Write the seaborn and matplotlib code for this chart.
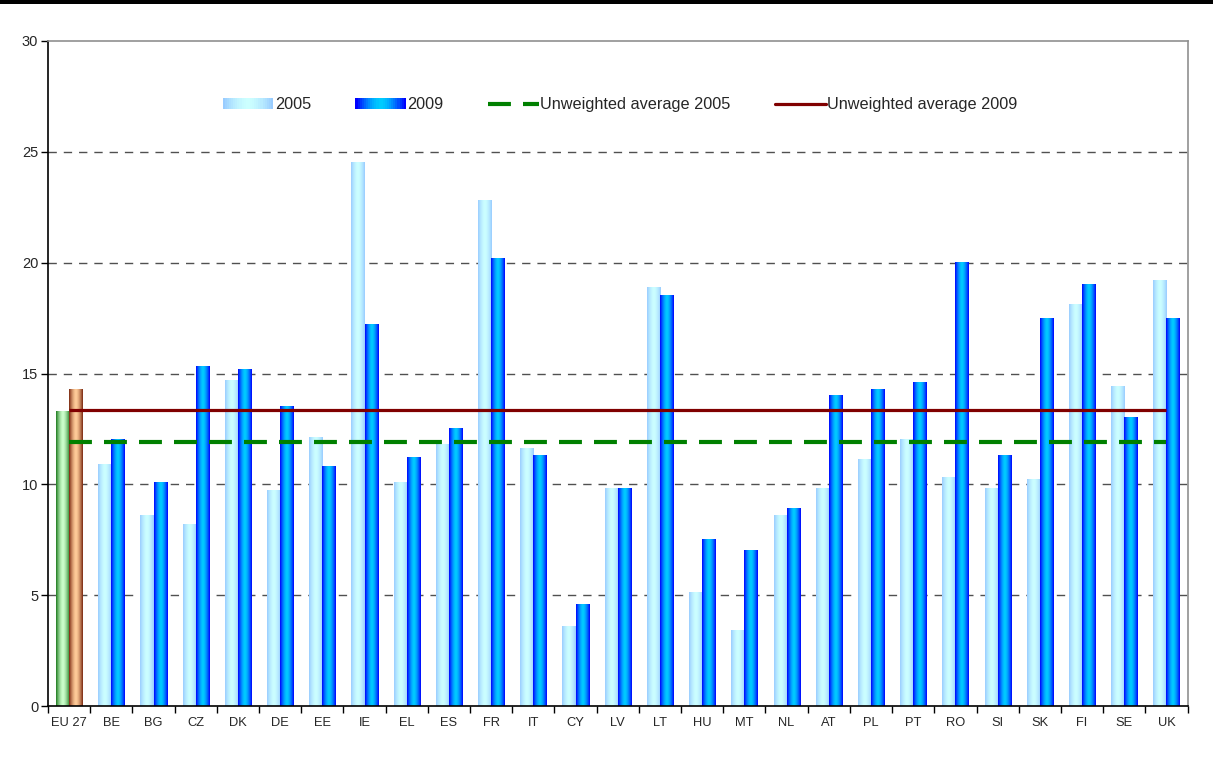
import numpy as np
import pandas as pd
import matplotlib
matplotlib.use("Agg")
import matplotlib.pyplot as plt
import matplotlib.colors as mcolors
from matplotlib.patches import Rectangle
from matplotlib.lines import Line2D
from matplotlib.legend_handler import HandlerBase
import seaborn as sns

# data
countries = ["EU 27", "BE", "BG", "CZ", "DK", "DE", "EE", "IE", "EL", "ES", "FR", "IT", "CY", "LV",
             "LT", "HU", "MT", "NL", "AT", "PL", "PT", "RO", "SI", "SK", "FI", "SE", "UK"]
values_2005 = [13.3, 10.9, 8.6, 8.2, 14.7, 9.7, 12.1, 24.5, 10.1, 11.8, 22.8, 11.6, 3.6, 9.8,
               18.9, 5.1, 3.4, 8.6, 9.8, 11.1, 12.0, 10.3, 9.8, 10.2, 18.1, 14.4, 19.2]
values_2009 = [14.3, 12.0, 10.1, 15.3, 15.2, 13.5, 10.8, 17.2, 11.2, 12.5, 20.2, 11.3, 4.6, 9.8,
               18.5, 7.5, 7.0, 8.9, 14.0, 14.3, 14.6, 20.0, 11.3, 17.5, 19.0, 13.0, 17.5]
avg_2005 = 11.9
avg_2009 = 13.35
y_ticks = [0, 5, 10, 15, 20, 25, 30]

# gradient colours (edge, centre)
grad_2005 = ("#99ccff", "#ccffff")
grad_2009 = ("#0000ff", "#00ccff")
grad_eu05 = ("#1e7a1e", "#ccffcc")
grad_eu09 = ("#7a2810", "#ffcc99")
green_dash = (0, (5.5, 2.9))


def gradient_row(edge, center, n=64):
    e = np.array(mcolors.to_rgb(edge))
    c = np.array(mcolors.to_rgb(center))
    t = np.abs(np.linspace(-1, 1, n)) ** 1.6
    return (c[None, :] * (1 - t[:, None]) + e[None, :] * t[:, None])[None, :, :]


class GradientHandler(HandlerBase):
    def __init__(self, edge, center):
        super().__init__()
        self.edge, self.center = edge, center

    def create_artists(self, legend, orig_handle, xdescent, ydescent, width, height, fontsize, trans):
        row = gradient_row(self.edge, self.center, 24)[0]
        n = len(row)
        arts = []
        for i, col in enumerate(row):
            arts.append(Rectangle((-xdescent + i * width / n, -ydescent), width / n * 1.05, height,
                                  facecolor=col, edgecolor="none", transform=trans))
        return arts


sns.set_style("white")
plt.rcParams["font.family"] = ["Liberation Sans", "DejaVu Sans"]

df = pd.DataFrame({
    "country": countries * 2,
    "value": values_2005 + values_2009,
    "year": ["2005"] * len(countries) + ["2009"] * len(countries),
})

fig = plt.figure(figsize=(12.13, 7.69), dpi=100)
ax = fig.add_axes([0.0396, 0.0819, 0.9394, 0.8648])

sns.barplot(data=df, x="country", y="value", hue="year", order=countries,
            hue_order=["2005", "2009"], width=0.62, dodge=True, legend=False,
            errorbar=None, ax=ax, color="white")

# paint gradients on the bars
for ci, cont in enumerate(ax.containers[:2]):
    for j, p in enumerate(cont.patches):
        if j == 0:
            edge, center = grad_eu05 if ci == 0 else grad_eu09
        else:
            edge, center = grad_2005 if ci == 0 else grad_2009
        x, w, h = p.get_x(), p.get_width(), p.get_height()
        p.set_facecolor("none")
        p.set_edgecolor("none")
        ax.imshow(gradient_row(edge, center), extent=[x, x + w, 0, h], aspect="auto",
                  interpolation="bilinear", zorder=2)

n = len(countries)
ax.hlines(avg_2009, 0, n - 1, color="#800000", linewidth=2.3, zorder=3)
ax.hlines(avg_2005, 0, n - 1, color="#008000", linewidth=3, linestyles=green_dash, zorder=3)

ax.set_xlim(-0.5, n - 0.5)
ax.set_ylim(0, 30)
ax.set_yticks(y_ticks)
ax.set_yticklabels([str(v) for v in y_ticks], fontsize=10.5)
ax.set_xticks(range(n))
ax.set_xticklabels(countries, fontsize=9.3)
ax.set_xticks(np.arange(-0.5, n, 1), minor=True)
ax.tick_params(axis="x", which="major", bottom=False, length=0, pad=8)
ax.tick_params(axis="x", which="minor", bottom=True, length=5, width=1, direction="out", color="black")
ax.tick_params(axis="y", left=True, length=5, width=1, direction="out", color="black", pad=2)
ax.set_xlabel("")
ax.set_ylabel("")

for yv in y_ticks[1:-1]:
    ax.axhline(yv, color="#505050", linewidth=1, linestyle=(0, (6, 5)), zorder=0.5)

for side in ["left", "bottom"]:
    ax.spines[side].set_color("black")
    ax.spines[side].set_linewidth(1.2)
for side in ["top", "right"]:
    ax.spines[side].set_color("#909090")
    ax.spines[side].set_linewidth(1.2)

# legend
h05 = Rectangle((0, 0), 1, 1)
h09 = Rectangle((0, 0), 1, 1)
hav05 = Line2D([], [], color="#008000", linewidth=3, linestyle=green_dash)
hav09 = Line2D([], [], color="#800000", linewidth=2.3)
ax.legend([h05, h09, hav05, hav09],
          ["2005", "2009", "Unweighted average 2005", "Unweighted average 2009"],
          handler_map={h05: GradientHandler(*grad_2005), h09: GradientHandler(*grad_2009)},
          ncol=4, frameon=False, loc="center", bbox_to_anchor=(0.502, 0.904),
          fontsize=11.7, handlelength=3.1, handleheight=0.7, handletextpad=0.1,
          columnspacing=2.75)

# black rule across the top of the page
fig.patches.append(Rectangle((0, 1 - 4 / 769), 1, 4 / 769, transform=fig.transFigure,
                             facecolor="black", edgecolor="none"))

fig.savefig("out.png", dpi=100)
